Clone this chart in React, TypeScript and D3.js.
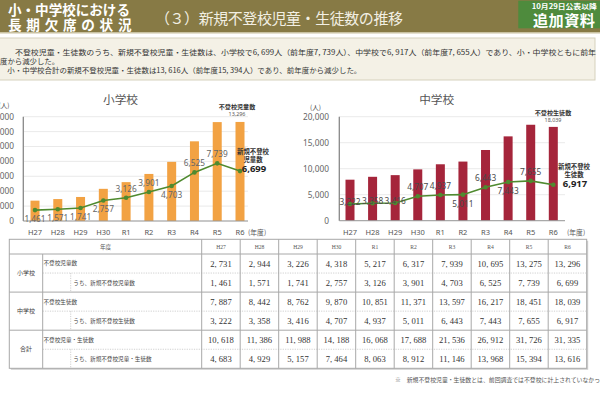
import React from 'react';
import * as d3 from 'd3';

const years = ['H27', 'H28', 'H29', 'H30', 'R1', 'R2', 'R3', 'R4', 'R5', 'R6'];
const elemTotal = [2731, 2944, 3226, 4318, 5217, 6317, 7939, 10695, 13275, 13296];
const elemNew = [1461, 1571, 1741, 2757, 3126, 3901, 4703, 6525, 7739, 6699];
const juniorTotal = [7887, 8442, 8762, 9870, 10851, 11371, 13597, 16217, 18451, 18039];
const juniorNew = [3222, 3358, 3416, 4707, 4937, 5011, 6443, 7443, 7655, 6917];
const sumTotal = [10618, 11386, 11988, 14188, 16068, 17688, 21536, 26912, 31726, 31335];
const sumNew = [4683, 4929, 5157, 7464, 8063, 8912, 11146, 13968, 15394, 13616];

const elemLabelPos = ['below', 'below', 'below', 'below', 'above', 'above', 'below', 'above', 'above', 'none'];
const juniorLabelPos = ['at', 'at', 'at', 'above', 'above', 'below', 'above', 'below', 'above', 'none'];

const tableGroups = ['小学校', '中学校', '合計'];
const rowLabels = [
  '不登校児童数',
  'うち、新規不登校児童数',
  '不登校生徒数',
  'うち、新規不登校生徒数',
  '不登校児童・生徒数',
  'うち、新規不登校児童・生徒数',
];
const rowValues = [elemTotal, elemNew, juniorTotal, juniorNew, sumTotal, sumNew];

const JP = "'Noto Sans CJK JP', 'Noto Sans', sans-serif";
const SANS = "'Noto Sans', 'DejaVu Sans', sans-serif";
const SERIF = "'Liberation Serif', 'DejaVu Serif', serif";

const fmt = d3.format(',');
const tableFmt = (v: number) => fmt(v).replace(',', ', ');

type ChartCfg = {
  title: string;
  titleX: number;
  c0: number;
  c1: number;
  yBottom: number;
  yTop: number;
  max: number;
  nTicks: number;
  axisX: number;
  gridRight: number;
  tickX: number;
  unitX: number;
  unitY: number;
  yearX: number;
  bars: number[];
  line: number[];
  labelPos: string[];
  labelColor: string;
  barColor: string;
  annoTop: string;
  annoTopX: number;
  annoTopY: number;
  annoNew2: string;
  annoNewX: number;
  annoNewY: number;
};

const LINE = '#4f8a2f';

function Chart({ cfg }: { cfg: ChartCfg }) {
  const x = d3.scalePoint<string>().domain(years).range([cfg.c0, cfg.c1]);
  const y = d3.scaleLinear().domain([0, cfg.max]).range([cfg.yBottom, cfg.yTop]);
  const ticks = y.ticks(cfg.nTicks);
  const lineGen = d3
    .line<number>()
    .x((_, i) => x(years[i]) as number)
    .y((d) => y(d));
  const bw = 9;
  const last = cfg.bars.length - 1;
  return (
    <g>
      <text x={cfg.titleX} y={cfg.yTop - 13} textAnchor="middle" fontFamily={JP} fontSize={11.7} fill="#555">
        {cfg.title}
      </text>
      <text x={cfg.unitX} y={cfg.unitY} textAnchor="end" fontFamily={JP} fontSize={6.5} fill="#444">
        (人)
      </text>
      {ticks.map((t) => (
        <g key={t}>
          <line x1={cfg.axisX} x2={cfg.gridRight} y1={y(t)} y2={y(t)} stroke="#e4e4e4" strokeWidth={0.8} />
          <text x={cfg.tickX} y={y(t)} dy="0.35em" textAnchor="end" fontFamily={SANS} fontSize={8.3} fill="#666">
            {fmt(t)}
          </text>
        </g>
      ))}
      {cfg.bars.map((v, i) => (
        <rect key={i} x={(x(years[i]) as number) - bw / 2} y={y(v)} width={bw} height={y(0) - y(v)} fill={cfg.barColor} />
      ))}
      <line x1={cfg.axisX} x2={cfg.axisX} y1={cfg.yTop} y2={cfg.yBottom} stroke="#888" strokeWidth={1.3} />
      <line x1={cfg.axisX} x2={cfg.gridRight} y1={cfg.yBottom} y2={cfg.yBottom} stroke="#999" strokeWidth={1} />
      <path d={lineGen(cfg.line) || ''} fill="none" stroke={LINE} strokeWidth={1.6} />
      {cfg.line.map((v, i) => (
        <circle key={i} cx={x(years[i]) as number} cy={y(v)} r={2.3} fill={LINE} />
      ))}
      {cfg.line.map((v, i) => {
        const p = cfg.labelPos[i];
        if (p === 'none') return null;
        const off = p === 'above' ? -9 : p === 'below' ? 9 : -2;
        return (
          <text key={i} x={x(years[i]) as number} y={y(v) + off} dy="0.35em" textAnchor="middle" fontFamily={SANS} fontSize={8.3} fill={cfg.labelColor}>
            {fmt(v)}
          </text>
        );
      })}
      {years.map((yr) => (
        <text key={yr} x={x(yr) as number} y={cfg.yBottom + 11.5} dy="0.35em" textAnchor="middle" fontFamily={SANS} fontSize={7.5} fill="#555">
          {yr}
        </text>
      ))}
      <text x={cfg.yearX} y={cfg.yBottom + 11.5} dy="0.35em" fontFamily={JP} fontSize={6.8} fill="#555">
        (年度)
      </text>
      <text x={cfg.annoTopX} y={cfg.annoTopY} dy="0.35em" textAnchor="middle" fontFamily={JP} fontWeight={700} fontSize={6.1} fill="#333">
        {cfg.annoTop}
      </text>
      <text x={cfg.annoTopX} y={cfg.annoTopY + 7.3} dy="0.35em" textAnchor="middle" fontFamily={SANS} fontSize={5.4} fill="#555">
        {fmt(cfg.bars[last])}
      </text>
      <text x={cfg.annoNewX} y={cfg.annoNewY} dy="0.35em" textAnchor="middle" fontFamily={JP} fontWeight={700} fontSize={6.4} fill="#333">
        新規不登校
      </text>
      <text x={cfg.annoNewX} y={cfg.annoNewY + 7.8} dy="0.35em" textAnchor="middle" fontFamily={JP} fontWeight={700} fontSize={6.4} fill="#333">
        {cfg.annoNew2}
      </text>
      <text x={cfg.annoNewX + 1} y={cfg.annoNewY + 16.8} dy="0.35em" textAnchor="middle" fontFamily={SANS} fontWeight={700} fontSize={9.5} fill="#222">
        {fmt(cfg.line[last])}
      </text>
    </g>
  );
}

const leftCfg: ChartCfg = {
  title: '小学校',
  titleX: 120.5,
  c0: 35,
  c1: 240,
  yBottom: 221,
  yTop: 116.7,
  max: 14000,
  nTicks: 7,
  axisX: 23.3,
  gridRight: 248,
  tickX: 14,
  unitX: 9.5,
  unitY: 108,
  yearX: 248,
  bars: elemTotal,
  line: elemNew,
  labelPos: elemLabelPos,
  labelColor: '#666',
  barColor: '#f2a243',
  annoTop: '不登校児童数',
  annoTopX: 237,
  annoTopY: 106.7,
  annoNew2: '児童数',
  annoNewX: 253,
  annoNewY: 151.7,
};

const rightCfg: ChartCfg = {
  title: '中学校',
  titleX: 436.7,
  c0: 350,
  c1: 553.3,
  yBottom: 220.7,
  yTop: 116.7,
  max: 20000,
  nTicks: 4,
  axisX: 339.3,
  gridRight: 565,
  tickX: 329,
  unitX: 321,
  unitY: 110,
  yearX: 567,
  bars: juniorTotal,
  line: juniorNew,
  labelPos: juniorLabelPos,
  labelColor: '#4a4a4a',
  barColor: '#a5253b',
  annoTop: '不登校生徒数',
  annoTopX: 553,
  annoTopY: 113.3,
  annoNew2: '生徒数',
  annoNewX: 574,
  annoNewY: 166.7,
};

function Table() {
  const left = 9.3;
  const groupR = 42.7;
  const indent = 70.7;
  const labelR = 201.7;
  const right = 586.7;
  const top = 239.3;
  const headB = 254;
  const bottom = 368.3;
  const col = d3.scaleBand<string>().domain(years).range([labelR, right]);
  const row = d3.scaleBand<number>().domain(d3.range(rowLabels.length)).range([headB, bottom]);
  const rh = row.bandwidth();
  const line = '#a8a8a8';
  return (
    <g>
      <rect x={left + 1.5} y={top + 1.5} width={right - left} height={bottom - top} fill="#d0d0d0" />
      <rect x={left} y={top} width={right - left} height={bottom - top} fill="#fff" stroke={line} strokeWidth={1} />
      <line x1={left} x2={right} y1={headB} y2={headB} stroke={line} />
      {[2, 4].map((r) => (
        <line key={r} x1={left} x2={right} y1={row(r) as number} y2={row(r) as number} stroke={line} />
      ))}
      {[0, 2, 4].map((r) => (
        <line key={'d' + r} x1={groupR} x2={right} y1={(row(r) as number) + rh} y2={(row(r) as number) + rh} stroke="#c4c4c4" strokeDasharray="1.2,1.2" strokeWidth={0.8} />
      ))}
      {[1, 3, 5].map((r) => (
        <line key={'v' + r} x1={indent} x2={indent} y1={row(r) as number} y2={(row(r) as number) + rh} stroke="#c4c4c4" strokeDasharray="1.2,1.2" strokeWidth={0.8} />
      ))}
      <line x1={groupR} x2={groupR} y1={headB} y2={bottom} stroke={line} />
      <line x1={labelR} x2={labelR} y1={top} y2={bottom} stroke={line} />
      {years.map((yr, i) =>
        i === 0 ? null : (
          <line key={yr} x1={col(yr) as number} x2={col(yr) as number} y1={top} y2={bottom} stroke={line} />
        )
      )}
      <text x={(left + labelR) / 2} y={(top + headB) / 2} dy="0.35em" textAnchor="middle" fontFamily={JP} fontSize={5.6} fill="#555">
        年度
      </text>
      {years.map((yr) => (
        <text key={yr} x={(col(yr) as number) + col.bandwidth() / 2} y={(top + headB) / 2} dy="0.35em" textAnchor="middle" fontFamily={SERIF} fontSize={5.6} fill="#555">
          {yr}
        </text>
      ))}
      {tableGroups.map((g, gi) => (
        <text key={g} x={(left + groupR) / 2} y={(row(gi * 2) as number) + rh} dy="0.35em" textAnchor="middle" fontFamily={JP} fontSize={6} fill="#444">
          {g}
        </text>
      ))}
      {rowLabels.map((lab, r) => (
        <text key={lab} x={r % 2 === 0 ? groupR + 0.8 : indent + 2.6} y={(row(r) as number) + rh / 2} dy="0.35em" fontFamily={JP} fontSize={5.6} fill="#444">
          {lab}
        </text>
      ))}
      {rowValues.map((vals, r) =>
        vals.map((v, i) => (
          <text key={r + '-' + i} x={(col(years[i]) as number) + col.bandwidth() / 2} y={(row(r) as number) + rh / 2} dy="0.35em" textAnchor="middle" fontFamily={SERIF} fontSize={8.6} fill="#333">
            {tableFmt(v)}
          </text>
        ))
      )}
    </g>
  );
}

export default function App() {
  return (
    <div style={{ position: 'absolute', left: 0, top: 0, width: 600, height: 400 }}>
      <svg width={600} height={400} style={{ display: 'block', background: '#fff' }}>
        <rect x={0} y={0} width={600} height={32} fill="#877a45" />
        <rect x={0} y={32} width={600} height={1.5} fill="#c9c2a2" />
        <text x={8} y={15} fontFamily={JP} fontWeight={700} fontSize={13.6} fill="#fff" textLength={122} lengthAdjust="spacing">
          小・中学校における
        </text>
        <text x={8} y={30.3} fontFamily={JP} fontWeight={700} fontSize={13.6} fill="#fff" textLength={123.5} lengthAdjust="spacing">
          長期欠席の状況
        </text>
        <text x={155} y={23.5} fontFamily={JP} fontSize={15} fill="#f2efe3" textLength={248} lengthAdjust="spacing">
          （３）新規不登校児童・生徒数の推移
        </text>
        <rect x={518.3} y={0.7} width={82} height={27.6} fill="#4e8b3d" />
        <text x={531.7} y={9.3} fontFamily={JP} fontWeight={700} fontSize={7} fill="#fff" textLength={65} lengthAdjust="spacingAndGlyphs">
          10月29日公表以降
        </text>
        <text x={533} y={26.3} fontFamily={JP} fontWeight={700} fontSize={15.2} fill="#fff" textLength={62} lengthAdjust="spacing">
          追加資料
        </text>

        <rect x={-2} y={38} width={597} height={42} fill="#f4f1e6" stroke="#d6d1bd" strokeWidth={1} />
        <text x={15} y={55.3} fontFamily={JP} fontSize={7.4} fill="#333" textLength={581} lengthAdjust="spacingAndGlyphs">
          不登校児童・生徒数のうち、新規不登校児童・生徒数は、小学校で6, 699人（前年度7, 739人）、中学校で6, 917人（前年度7, 655人）であり、小・中学校ともに前年
        </text>
        <text x={0} y={63.8} fontFamily={JP} fontSize={7.4} fill="#333">
          度から減少した。
        </text>
        <text x={7.3} y={72.6} fontFamily={JP} fontSize={7.4} fill="#333" textLength={354} lengthAdjust="spacingAndGlyphs">
          小・中学校合計の新規不登校児童・生徒数は13, 616人（前年度15, 394人）であり、前年度から減少した。
        </text>

        <Chart cfg={leftCfg} />
        <Chart cfg={rightCfg} />
        <Table />

        <text x={395} y={382} fontFamily={JP} fontSize={5.85} fill="#555" textLength={205} lengthAdjust="spacingAndGlyphs">
          ※　新規不登校児童・生徒数とは、前回調査では不登校に計上されていなかっ
        </text>
      </svg>
    </div>
  );
}
